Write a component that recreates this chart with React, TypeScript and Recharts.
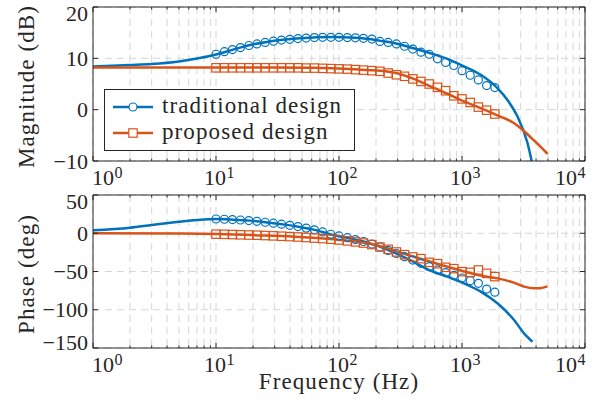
import React from "react";
import { LineChart, Line, XAxis, YAxis, CartesianGrid, Legend } from "recharts";

const BLUE = "#0072BD";
const ORANGE = "#D95319";
const INK = "#262626";
const GRID = "#d6d6d6";
const FONT = "'Liberation Serif', serif";

// ---------- axes ----------
const xTicks = [
  1, 2, 3, 4, 5, 6, 7, 8, 9,
  10, 20, 30, 40, 50, 60, 70, 80, 90,
  100, 200, 300, 400, 500, 600, 700, 800, 900,
  1000, 2000, 3000, 4000, 5000, 6000, 7000, 8000, 9000,
  10000,
];
const magTicks = [-10, 0, 10, 20];
const phaseTicks = [-150, -100, -50, 0, 50];

// ---------- magnitude (dB) ----------
const magFreqTrad = [1, 2, 3, 5, 7, 10, 13.8, 18.9, 25.9, 35, 48, 66, 90, 123, 169, 217, 297, 404, 555, 760, 1037, 1420, 1940, 2340, 2820, 3400, 3670, 4000];
const magTrad = [8.4, 8.7, 8.9, 9.4, 9.95, 10.75, 11.7, 12.6, 13.2, 13.6, 13.9, 14.1, 14.15, 14.05, 13.8, 13.4, 12.85, 11.95, 11.0, 9.9, 8.45, 6.8, 4.2, 1.9, -1.3, -6.4, -9.8, -14];

const magFreqProp = [1, 10, 30, 60, 100, 150, 217, 297, 405, 555, 760, 1037, 1420, 1940, 2640, 3200, 3850, 4960];
const magProp = [8.2, 8.2, 8.2, 8.15, 8.0, 7.8, 7.6, 7.1, 6.0, 4.55, 3.1, 1.6, 0.3, -1.1, -2.6, -4.2, -6.0, -8.6];

// measured points (markers)
const markerFreq = [10, 11.7, 13.6, 15.8, 18.5, 21.5, 25.1, 29.3, 34.1, 39.8, 46.4, 54.1, 63.1, 73.6, 85.8, 100, 117, 136, 158, 185, 215, 251, 293, 341, 398, 464, 541, 631, 736, 858, 1000, 1166, 1359, 1585, 1848];
const magTradPts = [10.8, 11.3, 11.7, 12.1, 12.5, 12.8, 13.1, 13.35, 13.55, 13.7, 13.85, 13.95, 14.05, 14.1, 14.1, 14.1, 14.05, 14.0, 13.9, 13.75, 13.3, 13.1, 12.8, 12.35, 11.8, 11.2, 10.8, 9.9, 9.2, 8.6, 7.6, 6.7, 5.8, 4.7, 4.3];
const magPropPts = [8.15, 8.15, 8.15, 8.15, 8.15, 8.15, 8.15, 8.15, 8.15, 8.15, 8.15, 8.1, 8.1, 8.05, 8.0, 7.95, 7.9, 7.8, 7.7, 7.6, 7.47, 7.14, 6.8, 6.5, 6.0, 5.5, 5.0, 4.35, 3.7, 2.7, 2.1, 1.4, 0.5, -0.1, -0.85];

// ---------- phase (deg) ----------
const phFreqTrad = [1, 2, 3, 5, 7, 10, 13.8, 18.9, 25.9, 35, 48, 66, 90, 123, 169, 232, 297, 404, 555, 760, 1037, 1420, 1940, 2640, 3200, 3400, 3740];
const phTrad = [4, 7.3, 10.8, 15, 17.3, 18.6, 17.8, 16.5, 14.2, 11.6, 8.2, 3.8, -2.3, -6.7, -11.9, -19.7, -27, -37.5, -48.9, -56.7, -65.5, -76.3, -91.6, -113, -131, -135.5, -141.8];

const phFreqProp = [1, 5, 10, 26, 48, 90, 123, 169, 232, 297, 404, 760, 1420, 1940, 2640, 3200, 3850, 4300, 4960];
const phProp = [0, -0.3, -1.0, -3.1, -4.9, -8, -10.1, -13.2, -18.4, -24, -30.6, -43.7, -55.4, -59, -64.6, -69.8, -72, -71.8, -69.5];

const phTradPts = [18.6, 18.3, 17.9, 17.3, 16.6, 15.6, 14.4, 13.2, 11.9, 10.4, 8.7, 6.7, 4.5, 1.7, -1.3, -3.5, -5.8, -8.3, -10.8, -14.2, -18, -22.5, -26.5, -30.6, -35, -39.3, -43.7, -48, -51.5, -55, -58.5, -62, -65.5, -73, -77];
const phPropPts = [-1.2, -1.4, -1.7, -2.0, -2.3, -2.6, -3.0, -3.4, -3.9, -4.4, -4.9, -5.6, -6.3, -7.0, -7.8, -8.8, -10.0, -11.3, -12.8, -14.8, -18, -21, -24.5, -28, -31, -33.2, -38, -39.8, -44.5, -46.3, -50.2, -51.1, -48, -52.4, -56.7];

const zip = (fs: number[], vs: number[]) => fs.map((f, i) => ({ f, v: vs[i] }));

const magTradData = zip(magFreqTrad, magTrad);
const magPropData = zip(magFreqProp, magProp);
const magTradPtsData = zip(markerFreq, magTradPts);
const magPropPtsData = zip(markerFreq, magPropPts);
const phTradData = zip(phFreqTrad, phTrad);
const phPropData = zip(phFreqProp, phProp);
const phTradPtsData = zip(markerFreq, phTradPts);
const phPropPtsData = zip(markerFreq, phPropPts);

// ---------- renderers ----------
const isMajor = (v: number) => {
  const l = Math.log10(v);
  return Math.abs(l - Math.round(l)) < 1e-9;
};

const tickStyle = { fontFamily: FONT, fontSize: 22, fill: INK } as any;
const supStyle = { fontFamily: FONT, fontSize: 16, fill: INK } as any;
const labelStyle = { fontFamily: FONT, fontSize: 23, letterSpacing: 1.1, fill: INK } as any;

function BottomXTick(props: any) {
  const { x, y, payload } = props;
  const v = payload.value;
  const major = isMajor(v);
  const len = major ? 5 : 2.5;
  const e = Math.round(Math.log10(v));
  let shift = -1;
  if (v === 1) shift = 10;
  if (v === 10000) shift = -19;
  return (
    <g>
      <line x1={x} x2={x} y1={y} y2={y - len} stroke={INK} strokeWidth={1} />
      {major && (
        <text x={x + shift} y={y + 24} textAnchor="middle" style={tickStyle}>
          10
        </text>
      )}
      {major && (
        <text x={x + shift + 11.5} y={y + 16.5} textAnchor="start" style={supStyle}>
          {e}
        </text>
      )}
    </g>
  );
}

function TopXTick(props: any) {
  const { x, y, payload } = props;
  const len = isMajor(payload.value) ? 5 : 2.5;
  return <line x1={x} x2={x} y1={y} y2={y + len} stroke={INK} strokeWidth={1} />;
}

const makeLeftTick = (top: number, bottom: number, bottomShift: number) => (props: any) => {
  const { x, y, payload } = props;
  const v = payload.value;
  let dy = 7.5;
  if (v === top) dy = 13.5;
  if (v === bottom) dy += bottomShift;
  const label = v < 0 ? `\u2212${Math.abs(v)}` : `${v}`;
  return (
    <g>
      <line x1={x} x2={x + 5} y1={y} y2={y} stroke={INK} strokeWidth={1} />
      <text x={x - 5} y={y + dy} textAnchor="end" style={tickStyle}>
        {label}
      </text>
    </g>
  );
};

function RightYTick(props: any) {
  const { x, y } = props;
  return <line x1={x} x2={x - 5} y1={y} y2={y} stroke={INK} strokeWidth={1} />;
}

function YLabel(props: any) {
  const { viewBox, text } = props;
  const cy = viewBox.y + viewBox.height / 2 + 2.5;
  return (
    <text transform={`translate(${viewBox.x + 33.5}, ${cy}) rotate(-90)`} textAnchor="middle" style={labelStyle}>
      {text}
    </text>
  );
}

function XLabel(props: any) {
  const { viewBox, text } = props;
  return (
    <text x={viewBox.x + viewBox.width / 2} y={viewBox.y + 41} textAnchor="middle" style={labelStyle}>
      {text}
    </text>
  );
}

const circleDot = (color: string) => (p: any) => (
  <circle key={`c${p.index}`} cx={p.cx} cy={p.cy} r={4} fill="none" stroke={color} strokeWidth={1.2} />
);
const squareDot = (color: string) => (p: any) => (
  <rect key={`s${p.index}`} x={p.cx - 4.2} y={p.cy - 4.2} width={8.4} height={8.4} fill="none" stroke={color} strokeWidth={1.2} />
);

const legendItems = [
  { name: "traditional design", color: BLUE, marker: "circle" },
  { name: "proposed design", color: ORANGE, marker: "square" },
];

function LegendBox() {
  return (
    <div style={{ width: 251, height: 62, boxSizing: "border-box", border: `1px solid ${INK}`, background: "#fff" }}>
      <svg width={249} height={60} style={{ display: "block" }}>
        {legendItems.map((it, i) => {
          const y = 17 + i * 26;
          return (
            <g key={it.name}>
              <line x1={8} x2={48} y1={y} y2={y} stroke={it.color} strokeWidth={2.5} />
              {it.marker === "circle" ? (
                <circle cx={28} cy={y} r={4} fill="#fff" stroke={it.color} strokeWidth={1.2} />
              ) : (
                <rect x={28 - 4.2} y={y - 4.2} width={8.4} height={8.4} fill="#fff" stroke={it.color} strokeWidth={1.2} />
              )}
              <text x={57} y={y + 5.5} style={labelStyle}>
                {it.name}
              </text>
            </g>
          );
        })}
      </svg>
    </div>
  );
}

function Panel(props: {
  height: number;
  marginTop: number;
  xAxisHeight: number;
  yDomain: [number, number];
  yTicks: number[];
  yLabel: string;
  xLabel?: string;
  bottomShift: number;
  lineA: { f: number; v: number }[];
  lineB: { f: number; v: number }[];
  ptsA: { f: number; v: number }[];
  ptsB: { f: number; v: number }[];
  legend?: boolean;
}) {
  const { yDomain, yTicks } = props;
  return (
    <LineChart width={602} height={props.height} margin={{ top: props.marginTop, right: 0, bottom: 0, left: 0 }} style={{ fontFamily: FONT }}>
      <CartesianGrid xAxisId="b" yAxisId="l" stroke={GRID} strokeDasharray="7 5" strokeWidth={1} />
      <XAxis
        xAxisId="b"
        dataKey="f"
        type="number"
        scale="log"
        domain={[1, 10000]}
        ticks={xTicks}
        interval={0}
        allowDataOverflow
        height={props.xAxisHeight}
        tickLine={false}
        tickSize={0}
        tickMargin={0}
        axisLine={{ stroke: INK, strokeWidth: 1 }}
        tick={(p: any) => <BottomXTick {...p} />}
        label={props.xLabel ? <XLabel text={props.xLabel} /> : undefined}
      />
      <XAxis
        xAxisId="t"
        orientation="top"
        dataKey="f"
        type="number"
        scale="log"
        domain={[1, 10000]}
        ticks={xTicks}
        interval={0}
        allowDataOverflow
        height={1}
        tickLine={false}
        tickSize={0}
        tickMargin={0}
        axisLine={{ stroke: INK, strokeWidth: 1 }}
        tick={(p: any) => <TopXTick {...p} />}
      />
      <YAxis
        yAxisId="l"
        type="number"
        domain={yDomain}
        ticks={yTicks}
        interval={0}
        allowDataOverflow
        width={93}
        tickLine={false}
        tickSize={0}
        tickMargin={0}
        axisLine={{ stroke: INK, strokeWidth: 1 }}
        tick={makeLeftTick(yDomain[1], yDomain[0], props.bottomShift)}
        label={<YLabel text={props.yLabel} />}
      />
      <YAxis
        yAxisId="r"
        orientation="right"
        type="number"
        domain={yDomain}
        ticks={yTicks}
        interval={0}
        allowDataOverflow
        width={17}
        tickLine={false}
        tickSize={0}
        tickMargin={0}
        axisLine={{ stroke: INK, strokeWidth: 1 }}
        tick={(p: any) => <RightYTick {...p} />}
      />
      <Line xAxisId="b" yAxisId="l" data={props.lineA} dataKey="v" type="monotone" stroke={BLUE} strokeWidth={2.5} dot={false} activeDot={false} isAnimationActive={false} />
      <Line xAxisId="b" yAxisId="l" data={props.lineB} dataKey="v" type="monotone" stroke={ORANGE} strokeWidth={2.5} dot={false} activeDot={false} isAnimationActive={false} />
      <Line xAxisId="b" yAxisId="l" data={props.ptsA} dataKey="v" stroke="none" dot={circleDot(BLUE)} activeDot={false} isAnimationActive={false} />
      <Line xAxisId="b" yAxisId="l" data={props.ptsB} dataKey="v" stroke="none" dot={squareDot(ORANGE)} activeDot={false} isAnimationActive={false} />
      {props.legend && (
        <Legend
          layout="horizontal"
          verticalAlign="middle"
          align="center"
          wrapperStyle={{ left: 104, top: 89, width: 251, height: 62, right: "auto", bottom: "auto" }}
          content={() => <LegendBox />}
        />
      )}
    </LineChart>
  );
}

export default function App() {
  return (
    <div style={{ position: "absolute", left: 0, top: 0, width: 602, height: 405, background: "#fff", fontFamily: FONT }}>
      <div style={{ position: "absolute", left: 0, top: 0 }}>
        <Panel
          height={190}
          marginTop={6}
          xAxisHeight={29}
          yDomain={[-10, 20]}
          yTicks={magTicks}
          yLabel="Magnitude (dB)"
          bottomShift={0}
          lineA={magTradData}
          lineB={magPropData}
          ptsA={magTradPtsData}
          ptsB={magPropPtsData}
          legend
        />
      </div>
      <div style={{ position: "absolute", left: 0, top: 190 }}>
        <Panel
          height={215}
          marginTop={4}
          xAxisHeight={57}
          yDomain={[-150, 50]}
          yTicks={phaseTicks}
          yLabel="Phase (deg)"
          xLabel="Frequency (Hz)"
          bottomShift={-5.5}
          lineA={phTradData}
          lineB={phPropData}
          ptsA={phTradPtsData}
          ptsB={phPropPtsData}
        />
      </div>
    </div>
  );
}
